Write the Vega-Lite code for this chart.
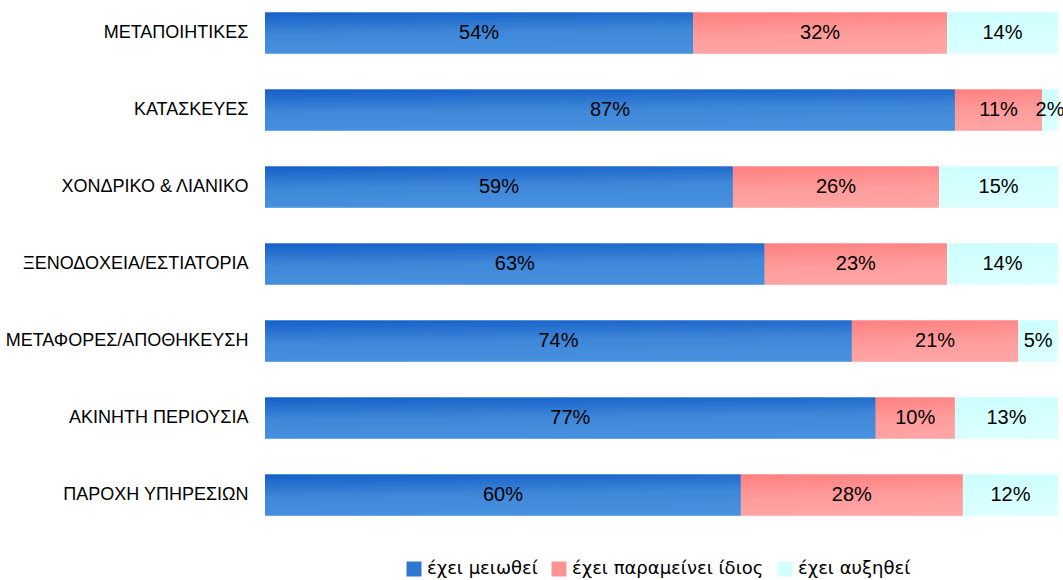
{
  "$schema": "https://vega.github.io/schema/vega-lite/v6.json",
  "width": 793,
  "height": 518,
  "autosize": {"type": "none"},
  "padding": {"left": 265, "top": 5, "right": 5, "bottom": 57},
  "background": "white",
  "config": {"view": {"stroke": null}},
  "data": {
    "values": [
      {"cat": "ΜΕΤΑΠΟΙΗΤΙΚΕΣ", "series": "έχει μειωθεί", "o": 1, "value": 0.54},
      {"cat": "ΜΕΤΑΠΟΙΗΤΙΚΕΣ", "series": "έχει παραμείνει ίδιος", "o": 2, "value": 0.32},
      {"cat": "ΜΕΤΑΠΟΙΗΤΙΚΕΣ", "series": "έχει αυξηθεί", "o": 3, "value": 0.14},
      {"cat": "ΚΑΤΑΣΚΕΥΕΣ", "series": "έχει μειωθεί", "o": 1, "value": 0.87},
      {"cat": "ΚΑΤΑΣΚΕΥΕΣ", "series": "έχει παραμείνει ίδιος", "o": 2, "value": 0.11},
      {"cat": "ΚΑΤΑΣΚΕΥΕΣ", "series": "έχει αυξηθεί", "o": 3, "value": 0.02},
      {"cat": "ΧΟΝΔΡΙΚΟ & ΛΙΑΝΙΚΟ", "series": "έχει μειωθεί", "o": 1, "value": 0.59},
      {"cat": "ΧΟΝΔΡΙΚΟ & ΛΙΑΝΙΚΟ", "series": "έχει παραμείνει ίδιος", "o": 2, "value": 0.26},
      {"cat": "ΧΟΝΔΡΙΚΟ & ΛΙΑΝΙΚΟ", "series": "έχει αυξηθεί", "o": 3, "value": 0.15},
      {"cat": "ΞΕΝΟΔΟΧΕΙΑ/ΕΣΤΙΑΤΟΡΙΑ", "series": "έχει μειωθεί", "o": 1, "value": 0.63},
      {"cat": "ΞΕΝΟΔΟΧΕΙΑ/ΕΣΤΙΑΤΟΡΙΑ", "series": "έχει παραμείνει ίδιος", "o": 2, "value": 0.23},
      {"cat": "ΞΕΝΟΔΟΧΕΙΑ/ΕΣΤΙΑΤΟΡΙΑ", "series": "έχει αυξηθεί", "o": 3, "value": 0.14},
      {"cat": "ΜΕΤΑΦΟΡΕΣ/ΑΠΟΘΗΚΕΥΣΗ", "series": "έχει μειωθεί", "o": 1, "value": 0.74},
      {"cat": "ΜΕΤΑΦΟΡΕΣ/ΑΠΟΘΗΚΕΥΣΗ", "series": "έχει παραμείνει ίδιος", "o": 2, "value": 0.21},
      {"cat": "ΜΕΤΑΦΟΡΕΣ/ΑΠΟΘΗΚΕΥΣΗ", "series": "έχει αυξηθεί", "o": 3, "value": 0.05},
      {"cat": "ΑΚΙΝΗΤΗ ΠΕΡΙΟΥΣΙΑ", "series": "έχει μειωθεί", "o": 1, "value": 0.77},
      {"cat": "ΑΚΙΝΗΤΗ ΠΕΡΙΟΥΣΙΑ", "series": "έχει παραμείνει ίδιος", "o": 2, "value": 0.10},
      {"cat": "ΑΚΙΝΗΤΗ ΠΕΡΙΟΥΣΙΑ", "series": "έχει αυξηθεί", "o": 3, "value": 0.13},
      {"cat": "ΠΑΡΟΧΗ ΥΠΗΡΕΣΙΩΝ", "series": "έχει μειωθεί", "o": 1, "value": 0.60},
      {"cat": "ΠΑΡΟΧΗ ΥΠΗΡΕΣΙΩΝ", "series": "έχει παραμείνει ίδιος", "o": 2, "value": 0.28},
      {"cat": "ΠΑΡΟΧΗ ΥΠΗΡΕΣΙΩΝ", "series": "έχει αυξηθεί", "o": 3, "value": 0.12}
    ]
  },
  "transform": [
    {"stack": "value", "groupby": ["cat"], "sort": [{"field": "o", "order": "ascending"}], "as": ["v0", "v1"]},
    {"calculate": "(datum.v0 + datum.v1) / 2", "as": "mid"}
  ],
  "encoding": {
    "y": {
      "field": "cat",
      "type": "nominal",
      "sort": null,
      "scale": {"paddingInner": 0.4675, "paddingOuter": 0.097},
      "axis": {
        "title": null,
        "domain": false,
        "ticks": false,
        "labelPadding": 17,
        "labelLimit": 0,
        "labelFont": "Liberation Sans",
        "labelFontSize": 18,
        "labelColor": "#000000"
      }
    }
  },
  "layer": [
    {
      "mark": {"type": "bar"},
      "encoding": {
        "x": {"field": "v0", "type": "quantitative", "scale": {"domain": [0, 1], "nice": false, "zero": true}, "axis": null},
        "x2": {"field": "v1"},
        "color": {
          "field": "series",
          "type": "nominal",
          "scale": {
            "domain": ["έχει μειωθεί", "έχει παραμείνει ίδιος", "έχει αυξηθεί"],
            "range": ["#2f78d2", "#ff9292", "#d4ffff"]
          },
          "legend": {
            "title": null,
            "orient": "none",
            "legendX": 140,
            "legendY": 555,
            "direction": "horizontal",
            "symbolType": "square",
            "symbolSize": 225,
            "symbolStrokeWidth": 0,
            "symbolOpacity": 1,
            "labelFont": "DejaVu Sans",
            "labelFontSize": 18,
            "labelLimit": 0,
            "labelColor": "#000000",
            "labelOffset": 4,
            "columnPadding": 12
          }
        }
      }
    },
    {
      "transform": [{"filter": "datum.o == 1"}],
      "mark": {"type": "bar", "color": {"gradient": "linear", "x1": 0, "y1": 0, "x2": 0.15, "y2": 1, "stops": [{"offset": 0, "color": "#1560c8"}, {"offset": 0.55, "color": "#3f88d9"}, {"offset": 1, "color": "#4690de"}]}},
      "encoding": {
        "x": {"field": "v0", "type": "quantitative"},
        "x2": {"field": "v1"}
      }
    },
    {
      "transform": [{"filter": "datum.o == 2"}],
      "mark": {"type": "bar", "color": {"gradient": "linear", "x1": 0, "y1": 0, "x2": 0.15, "y2": 1, "stops": [{"offset": 0, "color": "#ff8080"}, {"offset": 0.6, "color": "#ff9c9c"}, {"offset": 1, "color": "#ffa4a4"}]}},
      "encoding": {
        "x": {"field": "v0", "type": "quantitative"},
        "x2": {"field": "v1"}
      }
    },
    {
      "transform": [{"filter": "datum.o == 3"}],
      "mark": {"type": "bar", "color": {"gradient": "linear", "x1": 0, "y1": 0, "x2": 0.15, "y2": 1, "stops": [{"offset": 0, "color": "#ccffff"}, {"offset": 1, "color": "#dcffff"}]}},
      "encoding": {
        "x": {"field": "v0", "type": "quantitative"},
        "x2": {"field": "v1"}
      }
    },
    {
      "mark": {"type": "text", "font": "Liberation Sans", "fontSize": 20, "color": "#000000", "baseline": "middle", "align": "center"},
      "encoding": {
        "x": {"field": "mid", "type": "quantitative"},
        "text": {"field": "value", "type": "quantitative", "format": ".0%"}
      }
    }
  ]
}
